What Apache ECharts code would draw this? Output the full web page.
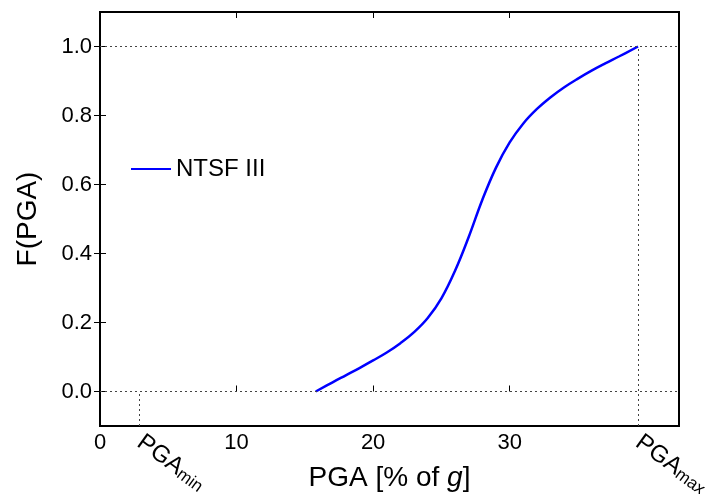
<!DOCTYPE html>
<html>
<head>
<meta charset="utf-8">
<script src="https://cdn.jsdelivr.net/npm/echarts@6/dist/echarts.min.js"></script>
<style>
    html, body { margin: 0; padding: 0; background: #fff; }
    #chart { width: 709px; height: 494px; }
</style>
</head>
<body>
<div id="chart"></div>
<script>
// curve
const pga = [15.8, 17, 18, 19, 20, 21, 22, 23, 24, 25, 26, 27, 28, 29, 30, 31, 32, 33, 34, 35, 36, 37, 38, 39.4]
const fPga = [0.0, 0.026, 0.047, 0.068, 0.090, 0.113, 0.140, 0.172, 0.213, 0.270, 0.350, 0.448, 0.556, 0.649, 0.722, 0.777, 0.819, 0.853, 0.882, 0.907, 0.930, 0.951, 0.971, 1.0]

const pgaMin = 2.9
const pgaMax = 39.4
const xTicks = [0, 10, 20, 30]
const yTicks = [0.0, 0.2, 0.4, 0.6, 0.8, 1.0]
const seriesName = 'NTSF III'

const xMax = 42.4
const yMin = -0.1
const yMax = 1.1

const font = 'Liberation Sans, Arial, sans-serif'
const dotted = { color: '#444', width: 1, type: [2, 3] }

const chart = echarts.init(document.getElementById('chart'), null, { renderer: 'canvas' })

const option = {
    animation: false,
    backgroundColor: '#fff',
    textStyle: { fontFamily: font },
    grid: {
        left: 100, right: 30, top: 12, bottom: 68,
        outerBoundsMode: 'none',
        show: true, borderColor: '#000', borderWidth: 2,
    },
    legend: {
        left: 126, top: 152,
        itemWidth: 40, itemHeight: 10, itemGap: 10,
        textStyle: { fontSize: 24, color: '#000', fontFamily: font },
        data: [{ name: seriesName, icon: 'path://M0,4 L40,4 L40,6 L0,6 Z' }],
    },
    xAxis: [
        {
            type: 'value', position: 'bottom', min: 0, max: xMax,
            splitLine: { show: false },
            axisLine: { show: false },
            axisTick: { inside: true, length: 6, lineStyle: { color: '#000' }, customValues: xTicks.slice(1) },
            axisLabel: { fontSize: 22, color: '#000', margin: 6, customValues: xTicks },
            name: '{n|PGA [% of }{i|g}{n|]}',
            nameLocation: 'middle', nameGap: 38,
            nameTextStyle: {
                fontSize: 28, color: '#000',
                rich: {
                    n: { fontSize: 28, color: '#000', fontFamily: font },
                    i: { fontSize: 28, color: '#000', fontFamily: font, fontStyle: 'italic' },
                },
            },
        },
        {
            type: 'value', position: 'bottom', min: 0, max: xMax,
            splitLine: { show: false },
            axisLine: { show: false },
            axisTick: { show: false },
            axisLabel: {
                customValues: [pgaMin, pgaMax],
                rotate: -36, margin: 14, color: '#000',
                formatter: (v) => v === pgaMin ? '{a|PGA}{b|min}' : '{a|PGA}{b|max}',
                rich: {
                    a: { fontSize: 24, color: '#000', fontFamily: font, verticalAlign: 'top', lineHeight: 24 },
                    b: { fontSize: 17, color: '#000', fontFamily: font, verticalAlign: 'bottom', lineHeight: 17, padding: [12, 0, 0, 0] },
                },
            },
        },
        {
            type: 'value', position: 'top', min: 0, max: xMax,
            splitLine: { show: false },
            axisLine: { show: false },
            axisTick: { inside: true, length: 6, lineStyle: { color: '#000' }, customValues: xTicks.slice(1) },
            axisLabel: { show: false },
        },
    ],
    yAxis: [
        {
            type: 'value', position: 'left', min: yMin, max: yMax,
            splitLine: { show: false },
            axisLine: { show: false },
            axisTick: { inside: true, length: 6, lineStyle: { color: '#000' }, customValues: yTicks },
            axisLabel: {
                fontSize: 22, color: '#000', margin: 8, customValues: yTicks,
                formatter: (v) => v.toFixed(1),
            },
            name: 'F(PGA)',
            nameLocation: 'middle', nameGap: 58,
            nameTextStyle: { fontSize: 28, color: '#000' },
        },
        {
            type: 'value', position: 'right', min: yMin, max: yMax,
            splitLine: { show: false },
            axisLine: { show: false },
            axisTick: { inside: true, length: 6, lineStyle: { color: '#000' }, customValues: yTicks },
            axisLabel: { show: false },
        },
    ],
    series: [
        {
            name: seriesName,
            type: 'line',
            smooth: 0.4,
            showSymbol: false,
            lineStyle: { color: '#0000ff', width: 2.5 },
            itemStyle: { color: '#0000ff' },
            data: pga.map((x, i) => [x, fPga[i]]),
            markLine: {
                silent: true,
                symbol: 'none',
                label: { show: false },
                lineStyle: dotted,
                data: [
                    [{ coord: [0, 0] }, { coord: [xMax, 0] }],
                    [{ coord: [0, 1] }, { coord: [xMax, 1] }],
                    [{ coord: [pgaMin, yMin] }, { coord: [pgaMin, 0] }],
                    [{ coord: [pgaMax, yMin] }, { coord: [pgaMax, 1] }],
                ],
            },
        },
    ],
}

chart.setOption(option)
</script>
</body>
</html>
